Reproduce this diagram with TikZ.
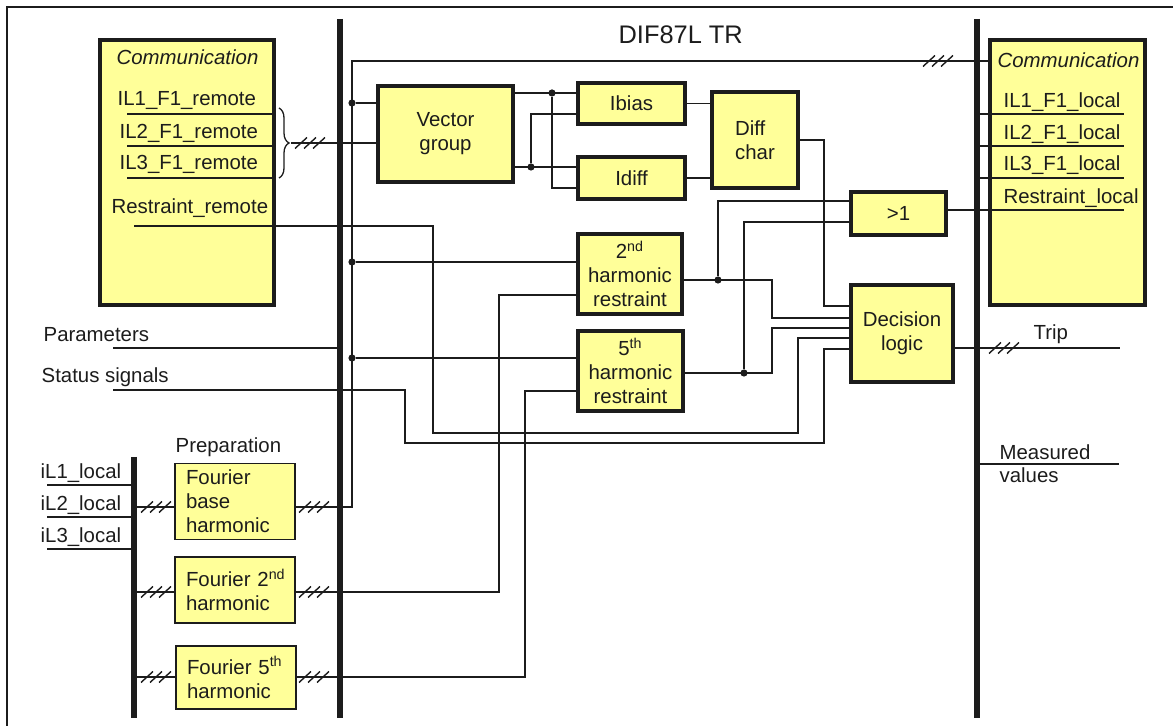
\documentclass[tikz,border=0pt]{standalone}
\usepackage{fontspec}
\setmainfont{Liberation Sans}
\usetikzlibrary{positioning,decorations.pathreplacing}
\definecolor{boxyellow}{RGB}{255,255,153}
\definecolor{ink}{RGB}{28,28,28}
\newcommand\stdfont{\fontsize{10.2}{12}\selectfont}

\begin{document}
\begin{tikzpicture}[x=0.5pt,y=-0.5pt,line width=0.65pt,color=ink,font=\stdfont,
   blk/.style={draw,fill=boxyellow,line width=1.6pt,align=center,inner sep=2pt},
   four/.style={draw,fill=boxyellow,line width=0.8pt,align=left,text width=49pt,inner xsep=5.5pt,minimum width=60pt},
   bus/.style={line width=3.4pt},
   jn/.style={circle,fill,inner sep=0pt,minimum size=3.6pt},
   lbl/.style={anchor=base west,inner sep=0pt},
   bundle/.pic={\foreach \d in {-9,0,9} \draw[line width=0.7pt] (\d-6,5.5)--(\d+6,-5.5);}]
  \useasboundingbox (0,0) rectangle (1173,726);
  \draw[line width=0.9pt] (7,726) -- (7,7) -- (1173,7);
  \node[lbl,font=\fontsize{12.7}{15}\selectfont] (title) at (618,43.3) {DIF87L TR};

  % communication blocks
  \node[blk,minimum width=87pt,minimum height=132.5pt] (commL) at (187,172.5) {};
  \node[blk,minimum width=77.5pt,minimum height=132.5pt] (commR) at (1067.5,172.5) {};
  \node[lbl,font=\stdfont\itshape] (cL) at (116,65) {Communication};
  \node[lbl] (rem1) at (117,106) {IL1\_F1\_remote};
  \node[lbl] (rem2) at (119,138.3) {IL2\_F1\_remote};
  \node[lbl] (rem3) at (119,170) {IL3\_F1\_remote};
  \node[lbl] (remR) at (111,214) {Restraint\_remote};
  \foreach \y in {114,146,178} \draw (127,\y) -- (272,\y);
  \node[lbl,font=\stdfont\itshape] (cR) at (997,67.7) {Communication};
  \node[lbl] (loc1) at (1003,107.3) {IL1\_F1\_local};
  \node[lbl] (loc2) at (1003,139.3) {IL2\_F1\_local};
  \node[lbl] (loc3) at (1003,171) {IL3\_F1\_local};
  \node[lbl] (locR) at (1003,203.3) {Restraint\_local};
  \foreach \y in {114,146,178} \draw (980,\y) -- (1124,\y);

  % function blocks
  \node[blk,minimum width=67.5pt,minimum height=48pt] (vg) at (445.5,134) {Vector\\group};
  \node[blk,minimum width=53.5pt,minimum height=20.5pt] (ibias) at (631.5,103.5) {Ibias};
  \node[blk,minimum width=53.5pt,minimum height=21pt] (idiff) at (631.5,178) {Idiff};
  \node[blk,align=left,minimum width=43pt,minimum height=48pt] (dchar) at (755,140) {Diff\\char};
  \node[blk,minimum width=52pt,minimum height=40pt] (h2) at (630,274) {2\textsuperscript{nd}\\harmonic\\restraint};
  \node[blk,minimum width=52.5pt,minimum height=40pt] (h5) at (630.5,371) {5\textsuperscript{th}\\harmonic\\restraint};
  \node[blk,minimum width=47.5pt,minimum height=21.5pt] (gt1) at (898.5,213.5) {>1};
  \node[blk,minimum width=51pt,minimum height=48.5pt] (dl) at (902,333.5) {Decision\\logic};

  % preparation
  \node[lbl] (prep) at (175,452.7) {Preparation};
  \node[four,minimum height=37.5pt] (fb) at (235,501.5) {Fourier\\base\\harmonic};
  \node[four,minimum height=33pt] (f2) at (235,590) {\mbox{Fourier 2\textsuperscript{nd}}\\harmonic};
  \node[four,minimum height=31.5pt] (f5) at (236,677.5) {\mbox{Fourier 5\textsuperscript{th}}\\harmonic};
  \node[lbl] (il1) at (40,479) {iL1\_local};
  \node[lbl] (il2) at (40,510.7) {iL2\_local};
  \node[lbl] (il3) at (40,542.3) {iL3\_local};
  \foreach \y in {485,517,549} \draw (47,\y) -- (131,\y);
  \foreach \y in {507,592,677} {
    \draw (137,\y) -- (175,\y);
    \pic at (156,\y) {bundle};
    \pic at (314,\y) {bundle};
  }

  % base harmonic distribution
  \coordinate (feed) at (352,61);
  \draw (fb.east |- 0,507) -- (352,507) -- (feed) -- (feed -| commR.west);
  \pic at (938,61) {bundle};
  \node[jn] (j1) at (352,103) {};
  \node[jn] (j2) at (352,262) {};
  \node[jn] (j3) at (352,358) {};
  \draw (j1) -- (vg.west |- j1);
  \draw (j2) -- (h2.west |- j2);
  \draw (j3) -- (h5.west |- j3);
  \draw[decorate,decoration={brace,amplitude=5pt}] (279,108) -- (279,178);
  \coordinate (brt) at (291,143);
  \draw (brt) -- (vg.west |- brt);
  \pic at (310,143) {bundle};

  % bias and differential current
  \node[jn] (j4) at (552,93) {};
  \node[jn] (j5) at (531,167) {};
  \draw (vg.east |- j4) -- (ibias.west |- j4);
  \draw (vg.east |- j5) -- (idiff.west |- j5);
  \draw (j4) |- (idiff.west |- 0,188);
  \draw (j5) |- (ibias.west |- 0,114);
  \draw (ibias.east) -- (dchar.west |- ibias.east);
  \draw (idiff.east) -- (dchar.west |- idiff.east);
  \draw (dchar.east) -| (824,306) -- (dl.west |- 0,306);

  % harmonic restraints
  \draw (f2.east |- 0,592) -| (499,295) -- (h2.west |- 0,295);
  \draw (f5.east |- 0,677) -| (525,391) -- (h5.west |- 0,391);
  \node[jn] (j6) at (718,280) {};
  \node[jn] (j7) at (744,373) {};
  \draw (h2.east |- j6) -| (772,318) -- (dl.west |- 0,318);
  \draw (h5.east |- j7) -| (772,328) -- (dl.west |- 0,328);
  \draw (j6) |- (gt1.west |- 0,201);
  \draw (j7) |- (gt1.west |- 0,222);
  \draw (gt1.east |- 0,210) -- (1124,210);

  % other inputs and outputs
  \node[lbl] (par) at (43,341.7) {Parameters};
  \node[lbl] (stat) at (41,382.7) {Status signals};
  \draw (113,348) -- (337,348);
  \draw (134,226) -| (433,433) -| (798,338) -- (dl.west |- 0,338);
  \draw (113,390) -| (405,443) -| (824,349) -- (dl.west |- 0,349);
  \draw (dl.east |- 0,348) -- (1120,348);
  \pic at (1004,348) {bundle};
  \node[lbl] (trip) at (1033,339.3) {Trip};
  \draw (980,464) -- (1119,464);
  \node[lbl] (meas) at (999,459.3) {Measured};
  \node[lbl] (vals) at (999,482.7) {values};

  % buses
  \draw[bus] (340,19) -- (340,718);
  \draw[bus] (977,19) -- (977,718);
  \draw[line width=3pt] (134,457) -- (134,718);
\end{tikzpicture}
\end{document}
